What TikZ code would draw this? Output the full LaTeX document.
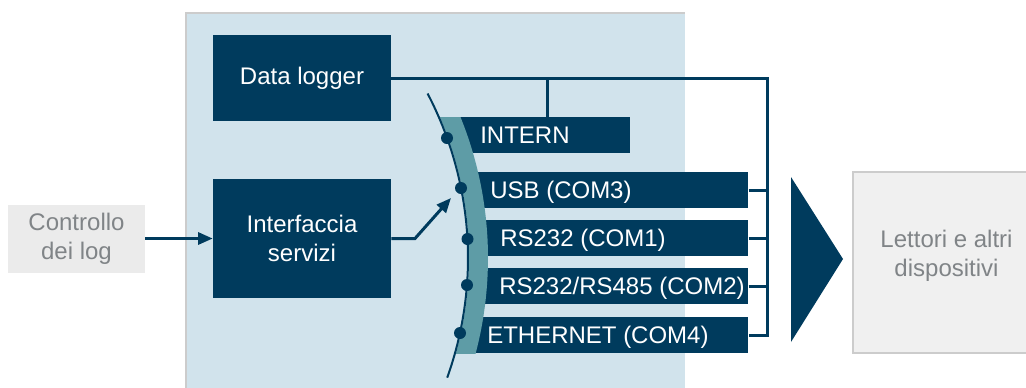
\documentclass[tikz,border=0pt]{standalone}
\usepackage{fontspec}
\setmainfont{Liberation Sans}
\usetikzlibrary{arrows.meta}

\definecolor{logblue}{RGB}{0,59,93}
\definecolor{ringteal}{RGB}{94,156,166}
\definecolor{panelblue}{RGB}{209,227,236}
\definecolor{softgray}{RGB}{235,235,235}
\definecolor{paleground}{RGB}{240,240,240}
\definecolor{edgegray}{RGB}{204,204,204}
\definecolor{textgray}{RGB}{128,132,135}

\begin{document}
\begin{tikzpicture}[
        x=0.75pt, y=-0.75pt,
        every node/.style={font=\fontsize{18}{21.5}\selectfont},
        box/.style={fill=logblue, text=white, align=center, minimum width=133.5pt, inner sep=0pt},
        graybox/.style={fill=softgray, text=textgray, align=center, inner sep=0pt},
        port/.style={fill=logblue, anchor=west, minimum height=27pt, inner sep=0pt},
        porttext/.style={text=white, anchor=west, xshift=15pt, inner sep=0pt,
            text height=12.9pt, text depth=0pt},
        dot/.style={circle, fill=logblue, inner sep=0pt, minimum size=9pt},
        wire/.style={draw=logblue, line width=2.25pt},
        feed/.style={wire, -{Triangle[length=11pt, width=9pt]}},
    ]
        \useasboundingbox (0,0) rectangle (1026,387);

        % Device panel
        \fill[panelblue] (186,13) rectangle (685,390);
        \draw[edgegray, line width=1.5pt] (186,390) -- (186,13) -- (685,13);

        % Define Function Nodes
        \node[box, minimum height=64.5pt] (logger) at (302,78) {Data logger};
        \node[box, minimum height=89.25pt] (service) at (302,238.5) {Interfaccia\\servizi};

        % Define Outside Nodes
        \node[graybox, minimum width=102.75pt, minimum height=51pt] (log) at (76.5,238.5) {Controllo\\dei log};
        \node[graybox, fill=paleground, draw=edgegray, line width=1.5pt, text depth=13.5pt,
            minimum width=140.25pt, minimum height=135.75pt] (readers) at (946.5,262.5) {Lettori e altri\\dispositivi};

        % Define Port Nodes (left ends sit under the ring)
        \node[port, minimum width=127.5pt, label={[porttext]west:INTERN}] (intern) at (460,135) {};
        \node[port, minimum width=208.5pt, label={[porttext]west:USB (COM3)}] (usb) at (470,190) {};
        \node[port, minimum width=201pt, label={[porttext]west:RS232 (COM1)}] (rsa) at (480,238) {};
        \node[port, minimum width=201.75pt, label={[porttext]west:RS232/RS485 (COM2)}] (rsb) at (479,286) {};
        \node[port, minimum width=210.75pt, label={[porttext]west:ETHERNET (COM4)}] (eth) at (467,335) {};

        % Ring band between the ports and the rail
        \begin{scope}
            \clip (400,117) rectangle (520,353);
            \fill[ringteal] plot[domain=-30:25, samples=60] ({113+356*cos(\x)}, {258+356*sin(\x)})
                -- plot[domain=25:-30, samples=60] ({113+375*cos(\x)}, {258+375*sin(\x)}) -- cycle;
        \end{scope}

        % Rail with its contact points
        \draw[logblue, line width=1.5pt] plot[domain=-27.6:19.7, samples=60] ({113+355*cos(\x)}, {258+355*sin(\x)});
        \node[dot] (p1) at (447,138) {};
        \node[dot] (p2) at (461,188) {};
        \node[dot] (p3) at (467.5,239) {};
        \node[dot] (p4) at (467,285) {};
        \node[dot] (p5) at (460,333) {};

        % Draw Edges (Logger → Ports → Outside)
        \coordinate (bustop) at (767,78);
        \coordinate (tap) at (547,78);
        \draw[wire] (logger.east) -- (bustop) |- (eth.east);
        \draw[wire] (tap) -- (tap |- intern.north);
        \foreach \p in {usb, rsa, rsb}
            \draw[wire] (\p.east) -- (\p.east -| bustop);

        % Draw Input Arrows
        \coordinate (bend) at (415,238.5);
        \coordinate (hit) at (451,198);
        \draw[feed] (log.east) -- (service.west);
        \draw[feed] (service.east) -- (bend) -- (hit);

        % Output wedge
        \fill[logblue] (791,177) -- (843,259) -- (791,342) -- cycle;
    \end{tikzpicture}
\end{document}
